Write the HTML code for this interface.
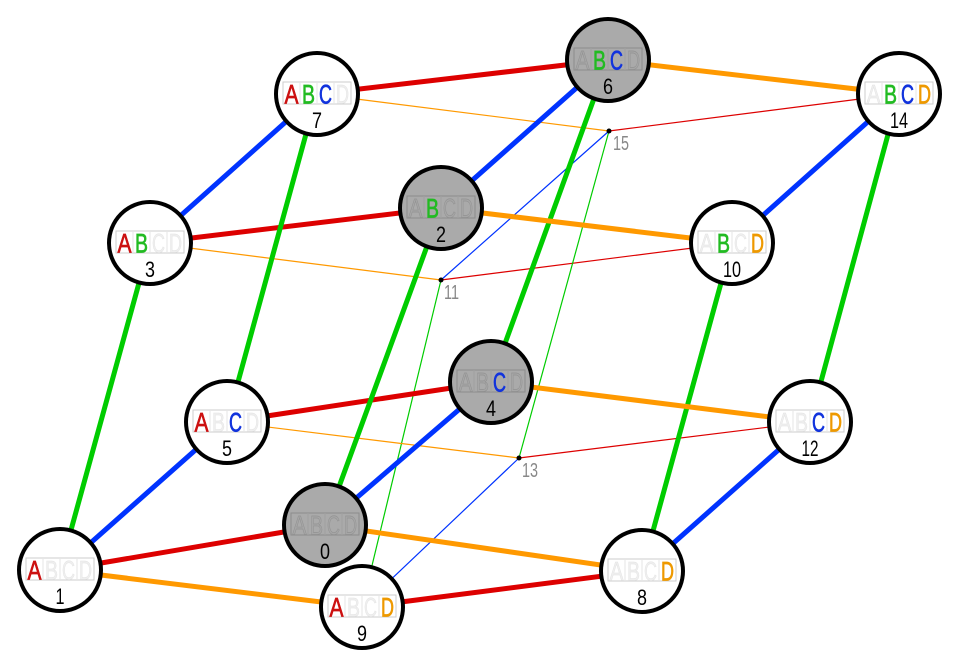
<!DOCTYPE html>
<html><head><meta charset="utf-8"><style>
html,body{margin:0;padding:0;background:#fff;}
svg{display:block;}
.L{font-family:"Liberation Sans Narrow","Liberation Sans",sans-serif;font-size:27px;text-anchor:middle;}
.N{font-family:"Liberation Sans Narrow","Liberation Sans",sans-serif;font-size:22px;text-anchor:middle;fill:#000;}
.P{font-family:"Liberation Sans Narrow","Liberation Sans",sans-serif;font-size:20px;fill:#888;}
.a{fill:#cc1111;stroke:#cc1111;stroke-width:0.7}.b{fill:#22bb22;stroke:#22bb22;stroke-width:0.7}.c{fill:#1133dd;stroke:#1133dd;stroke-width:0.7}.d{fill:#ee9900;stroke:#ee9900;stroke-width:0.7}
.w{fill:#efefef;stroke:#e2e2e2;stroke-width:0.5}.g{fill:#a6a6a6;stroke:#929292;stroke-width:0.7}
</style></head><body>
<svg width="960" height="668" viewBox="0 0 960 668" xmlns="http://www.w3.org/2000/svg">
<g stroke-linecap="round">
<g stroke-width="1.2" fill="none">
<line x1="732" y1="243" x2="441" y2="280" stroke="#dd0000"/>
<line x1="810" y1="422" x2="519" y2="458" stroke="#dd0000"/>
<line x1="899" y1="94" x2="609" y2="131" stroke="#dd0000"/>
<line x1="362" y1="607" x2="441" y2="280" stroke="#00cc00"/>
<line x1="519" y1="458" x2="609" y2="131" stroke="#00cc00"/>
<line x1="362" y1="607" x2="519" y2="458" stroke="#0033ff"/>
<line x1="441" y1="280" x2="609" y2="131" stroke="#0033ff"/>
<line x1="150" y1="243" x2="441" y2="280" stroke="#ff9900"/>
<line x1="227" y1="422" x2="519" y2="458" stroke="#ff9900"/>
<line x1="317" y1="94" x2="609" y2="131" stroke="#ff9900"/>
</g>
<g stroke-width="5" fill="none">
<g stroke="#dd0000">
<line x1="325" y1="525" x2="60" y2="570"/>
<line x1="441" y1="208" x2="150" y2="243"/>
<line x1="491" y1="382" x2="227" y2="422"/>
<line x1="608" y1="60" x2="317" y2="94"/>
<line x1="642" y1="571" x2="362" y2="607"/>
</g>
<g stroke="#00cc00">
<line x1="325" y1="525" x2="441" y2="208"/>
<line x1="60" y1="570" x2="150" y2="243"/>
<line x1="491" y1="382" x2="608" y2="60"/>
<line x1="227" y1="422" x2="317" y2="94"/>
<line x1="642" y1="571" x2="732" y2="243"/>
<line x1="810" y1="422" x2="899" y2="94"/>
</g>
<g stroke="#0033ff">
<line x1="325" y1="525" x2="491" y2="382"/>
<line x1="60" y1="570" x2="227" y2="422"/>
<line x1="441" y1="208" x2="608" y2="60"/>
<line x1="150" y1="243" x2="317" y2="94"/>
<line x1="642" y1="571" x2="810" y2="422"/>
<line x1="732" y1="243" x2="899" y2="94"/>
</g>
<g stroke="#ff9900">
<line x1="325" y1="525" x2="642" y2="571"/>
<line x1="60" y1="570" x2="362" y2="607"/>
<line x1="441" y1="208" x2="732" y2="243"/>
<line x1="491" y1="382" x2="810" y2="422"/>
<line x1="608" y1="60" x2="899" y2="94"/>
</g>
</g>
</g>
<circle cx="441" cy="280" r="2.5" fill="#000"/><text class="P" x="444" y="299" textLength="15" lengthAdjust="spacingAndGlyphs">11</text>
<circle cx="519" cy="458" r="2.5" fill="#000"/><text class="P" x="522" y="477" textLength="16" lengthAdjust="spacingAndGlyphs">13</text>
<circle cx="609" cy="131" r="2.5" fill="#000"/><text class="P" x="613" y="150" textLength="16" lengthAdjust="spacingAndGlyphs">15</text>

<g transform="translate(325,525)">
<circle r="41" fill="#aaaaaa" stroke="#000" stroke-width="4"/>
<rect x="-34" y="-12" width="68" height="22" fill="none" stroke="#8c8c8c" stroke-width="1"/>
<path d="M-17-12v22M0-12v22M17-12v22" stroke="#a0a0a0" stroke-width="1"/>
<text class="L g" x="-25.5" y="9.5" textLength="14" lengthAdjust="spacingAndGlyphs">A</text>
<text class="L g" x="-8.5" y="9.5" textLength="13" lengthAdjust="spacingAndGlyphs">B</text>
<text class="L g" x="8.5" y="9.5" textLength="13" lengthAdjust="spacingAndGlyphs">C</text>
<text class="L g" x="25.5" y="9.5" textLength="13" lengthAdjust="spacingAndGlyphs">D</text>
<text class="N" y="34" textLength="10" lengthAdjust="spacingAndGlyphs">0</text>
</g>
<g transform="translate(60,570)">
<circle r="41" fill="#fff" stroke="#000" stroke-width="4"/>
<rect x="-34" y="-12" width="68" height="22" fill="none" stroke="#cccccc" stroke-width="1"/>
<path d="M-17-12v22M0-12v22M17-12v22" stroke="#e6e6e6" stroke-width="1"/>
<text class="L a" x="-25.5" y="9.5" textLength="14" lengthAdjust="spacingAndGlyphs">A</text>
<text class="L w" x="-8.5" y="9.5" textLength="13" lengthAdjust="spacingAndGlyphs">B</text>
<text class="L w" x="8.5" y="9.5" textLength="13" lengthAdjust="spacingAndGlyphs">C</text>
<text class="L w" x="25.5" y="9.5" textLength="13" lengthAdjust="spacingAndGlyphs">D</text>
<text class="N" y="34" textLength="9" lengthAdjust="spacingAndGlyphs">1</text>
</g>
<g transform="translate(441,208)">
<circle r="41" fill="#aaaaaa" stroke="#000" stroke-width="4"/>
<rect x="-34" y="-12" width="68" height="22" fill="none" stroke="#8c8c8c" stroke-width="1"/>
<path d="M-17-12v22M0-12v22M17-12v22" stroke="#a0a0a0" stroke-width="1"/>
<text class="L g" x="-25.5" y="9.5" textLength="14" lengthAdjust="spacingAndGlyphs">A</text>
<text class="L b" x="-8.5" y="9.5" textLength="13" lengthAdjust="spacingAndGlyphs">B</text>
<text class="L g" x="8.5" y="9.5" textLength="13" lengthAdjust="spacingAndGlyphs">C</text>
<text class="L g" x="25.5" y="9.5" textLength="13" lengthAdjust="spacingAndGlyphs">D</text>
<text class="N" y="34" textLength="10" lengthAdjust="spacingAndGlyphs">2</text>
</g>
<g transform="translate(150,243)">
<circle r="41" fill="#fff" stroke="#000" stroke-width="4"/>
<rect x="-34" y="-12" width="68" height="22" fill="none" stroke="#cccccc" stroke-width="1"/>
<path d="M-17-12v22M0-12v22M17-12v22" stroke="#e6e6e6" stroke-width="1"/>
<text class="L a" x="-25.5" y="9.5" textLength="14" lengthAdjust="spacingAndGlyphs">A</text>
<text class="L b" x="-8.5" y="9.5" textLength="13" lengthAdjust="spacingAndGlyphs">B</text>
<text class="L w" x="8.5" y="9.5" textLength="13" lengthAdjust="spacingAndGlyphs">C</text>
<text class="L w" x="25.5" y="9.5" textLength="13" lengthAdjust="spacingAndGlyphs">D</text>
<text class="N" y="34" textLength="10" lengthAdjust="spacingAndGlyphs">3</text>
</g>
<g transform="translate(491,382)">
<circle r="41" fill="#aaaaaa" stroke="#000" stroke-width="4"/>
<rect x="-34" y="-12" width="68" height="22" fill="none" stroke="#8c8c8c" stroke-width="1"/>
<path d="M-17-12v22M0-12v22M17-12v22" stroke="#a0a0a0" stroke-width="1"/>
<text class="L g" x="-25.5" y="9.5" textLength="14" lengthAdjust="spacingAndGlyphs">A</text>
<text class="L g" x="-8.5" y="9.5" textLength="13" lengthAdjust="spacingAndGlyphs">B</text>
<text class="L c" x="8.5" y="9.5" textLength="13" lengthAdjust="spacingAndGlyphs">C</text>
<text class="L g" x="25.5" y="9.5" textLength="13" lengthAdjust="spacingAndGlyphs">D</text>
<text class="N" y="34" textLength="10" lengthAdjust="spacingAndGlyphs">4</text>
</g>
<g transform="translate(227,422)">
<circle r="41" fill="#fff" stroke="#000" stroke-width="4"/>
<rect x="-34" y="-12" width="68" height="22" fill="none" stroke="#cccccc" stroke-width="1"/>
<path d="M-17-12v22M0-12v22M17-12v22" stroke="#e6e6e6" stroke-width="1"/>
<text class="L a" x="-25.5" y="9.5" textLength="14" lengthAdjust="spacingAndGlyphs">A</text>
<text class="L w" x="-8.5" y="9.5" textLength="13" lengthAdjust="spacingAndGlyphs">B</text>
<text class="L c" x="8.5" y="9.5" textLength="13" lengthAdjust="spacingAndGlyphs">C</text>
<text class="L w" x="25.5" y="9.5" textLength="13" lengthAdjust="spacingAndGlyphs">D</text>
<text class="N" y="34" textLength="10" lengthAdjust="spacingAndGlyphs">5</text>
</g>
<g transform="translate(608,60)">
<circle r="41" fill="#aaaaaa" stroke="#000" stroke-width="4"/>
<rect x="-34" y="-12" width="68" height="22" fill="none" stroke="#8c8c8c" stroke-width="1"/>
<path d="M-17-12v22M0-12v22M17-12v22" stroke="#a0a0a0" stroke-width="1"/>
<text class="L g" x="-25.5" y="9.5" textLength="14" lengthAdjust="spacingAndGlyphs">A</text>
<text class="L b" x="-8.5" y="9.5" textLength="13" lengthAdjust="spacingAndGlyphs">B</text>
<text class="L c" x="8.5" y="9.5" textLength="13" lengthAdjust="spacingAndGlyphs">C</text>
<text class="L g" x="25.5" y="9.5" textLength="13" lengthAdjust="spacingAndGlyphs">D</text>
<text class="N" y="34" textLength="10" lengthAdjust="spacingAndGlyphs">6</text>
</g>
<g transform="translate(317,94)">
<circle r="41" fill="#fff" stroke="#000" stroke-width="4"/>
<rect x="-34" y="-12" width="68" height="22" fill="none" stroke="#cccccc" stroke-width="1"/>
<path d="M-17-12v22M0-12v22M17-12v22" stroke="#e6e6e6" stroke-width="1"/>
<text class="L a" x="-25.5" y="9.5" textLength="14" lengthAdjust="spacingAndGlyphs">A</text>
<text class="L b" x="-8.5" y="9.5" textLength="13" lengthAdjust="spacingAndGlyphs">B</text>
<text class="L c" x="8.5" y="9.5" textLength="13" lengthAdjust="spacingAndGlyphs">C</text>
<text class="L w" x="25.5" y="9.5" textLength="13" lengthAdjust="spacingAndGlyphs">D</text>
<text class="N" y="34" textLength="10" lengthAdjust="spacingAndGlyphs">7</text>
</g>
<g transform="translate(642,571)">
<circle r="41" fill="#fff" stroke="#000" stroke-width="4"/>
<rect x="-34" y="-12" width="68" height="22" fill="none" stroke="#cccccc" stroke-width="1"/>
<path d="M-17-12v22M0-12v22M17-12v22" stroke="#e6e6e6" stroke-width="1"/>
<text class="L w" x="-25.5" y="9.5" textLength="14" lengthAdjust="spacingAndGlyphs">A</text>
<text class="L w" x="-8.5" y="9.5" textLength="13" lengthAdjust="spacingAndGlyphs">B</text>
<text class="L w" x="8.5" y="9.5" textLength="13" lengthAdjust="spacingAndGlyphs">C</text>
<text class="L d" x="25.5" y="9.5" textLength="13" lengthAdjust="spacingAndGlyphs">D</text>
<text class="N" y="34" textLength="10" lengthAdjust="spacingAndGlyphs">8</text>
</g>
<g transform="translate(362,607)">
<circle r="41" fill="#fff" stroke="#000" stroke-width="4"/>
<rect x="-34" y="-12" width="68" height="22" fill="none" stroke="#cccccc" stroke-width="1"/>
<path d="M-17-12v22M0-12v22M17-12v22" stroke="#e6e6e6" stroke-width="1"/>
<text class="L a" x="-25.5" y="9.5" textLength="14" lengthAdjust="spacingAndGlyphs">A</text>
<text class="L w" x="-8.5" y="9.5" textLength="13" lengthAdjust="spacingAndGlyphs">B</text>
<text class="L w" x="8.5" y="9.5" textLength="13" lengthAdjust="spacingAndGlyphs">C</text>
<text class="L d" x="25.5" y="9.5" textLength="13" lengthAdjust="spacingAndGlyphs">D</text>
<text class="N" y="34" textLength="10" lengthAdjust="spacingAndGlyphs">9</text>
</g>
<g transform="translate(732,243)">
<circle r="41" fill="#fff" stroke="#000" stroke-width="4"/>
<rect x="-34" y="-12" width="68" height="22" fill="none" stroke="#cccccc" stroke-width="1"/>
<path d="M-17-12v22M0-12v22M17-12v22" stroke="#e6e6e6" stroke-width="1"/>
<text class="L w" x="-25.5" y="9.5" textLength="14" lengthAdjust="spacingAndGlyphs">A</text>
<text class="L b" x="-8.5" y="9.5" textLength="13" lengthAdjust="spacingAndGlyphs">B</text>
<text class="L w" x="8.5" y="9.5" textLength="13" lengthAdjust="spacingAndGlyphs">C</text>
<text class="L d" x="25.5" y="9.5" textLength="13" lengthAdjust="spacingAndGlyphs">D</text>
<text class="N" y="34" textLength="18" lengthAdjust="spacingAndGlyphs">10</text>
</g>
<g transform="translate(810,422)">
<circle r="41" fill="#fff" stroke="#000" stroke-width="4"/>
<rect x="-34" y="-12" width="68" height="22" fill="none" stroke="#cccccc" stroke-width="1"/>
<path d="M-17-12v22M0-12v22M17-12v22" stroke="#e6e6e6" stroke-width="1"/>
<text class="L w" x="-25.5" y="9.5" textLength="14" lengthAdjust="spacingAndGlyphs">A</text>
<text class="L w" x="-8.5" y="9.5" textLength="13" lengthAdjust="spacingAndGlyphs">B</text>
<text class="L c" x="8.5" y="9.5" textLength="13" lengthAdjust="spacingAndGlyphs">C</text>
<text class="L d" x="25.5" y="9.5" textLength="13" lengthAdjust="spacingAndGlyphs">D</text>
<text class="N" y="34" textLength="17" lengthAdjust="spacingAndGlyphs">12</text>
</g>
<g transform="translate(899,94)">
<circle r="41" fill="#fff" stroke="#000" stroke-width="4"/>
<rect x="-34" y="-12" width="68" height="22" fill="none" stroke="#cccccc" stroke-width="1"/>
<path d="M-17-12v22M0-12v22M17-12v22" stroke="#e6e6e6" stroke-width="1"/>
<text class="L w" x="-25.5" y="9.5" textLength="14" lengthAdjust="spacingAndGlyphs">A</text>
<text class="L b" x="-8.5" y="9.5" textLength="13" lengthAdjust="spacingAndGlyphs">B</text>
<text class="L c" x="8.5" y="9.5" textLength="13" lengthAdjust="spacingAndGlyphs">C</text>
<text class="L d" x="25.5" y="9.5" textLength="13" lengthAdjust="spacingAndGlyphs">D</text>
<text class="N" y="34" textLength="18" lengthAdjust="spacingAndGlyphs">14</text>
</g>
</svg>
</body></html>
